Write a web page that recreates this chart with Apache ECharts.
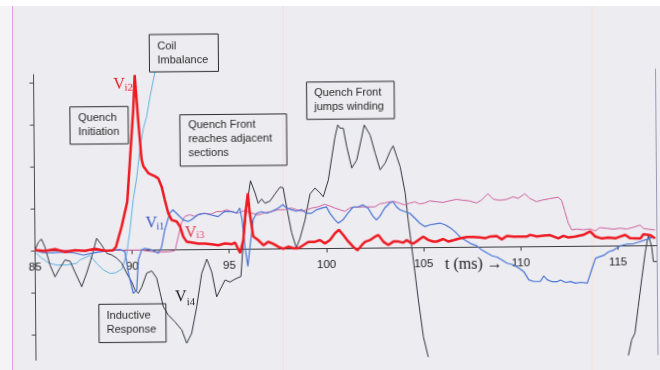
<!DOCTYPE html>
<html>
<head>
<meta charset="utf-8">
<script src="https://cdn.jsdelivr.net/npm/echarts@6/dist/echarts.min.js"></script>
<style>
  html, body { margin: 0; padding: 0; }
  body {
    width: 660px; height: 370px; overflow: hidden;
    background:
      linear-gradient(#ffffff, #ffffff) 0 0 / 660px 6px no-repeat,
      linear-gradient(#e59ce6, #e59ce6) 12px 0 / 1px 370px no-repeat,
      linear-gradient(#f4f4f7, #f4f4f7) 0 0 / 12px 370px no-repeat,
      linear-gradient(#f2e2ea, #f2e2ea) 282px 0 / 2px 370px no-repeat,
      linear-gradient(#f3e7e6, #f3e7e6) 591px 0 / 3px 370px no-repeat,
      #ececf1;
  }
  /* the scanned sheet sits slightly askew */
  #chart { width: 660px; height: 370px; transform: rotate(-0.5deg); transform-origin: 330px 185px; }
</style>
</head>
<body>
<div id="chart"></div>
<script>
// time axis (ms) and vertical tick positions (one division per tick)
const xTicks = [85, 90, 95, 100, 105, 110, 115];
const yTicks = [-2, -1, 0, 1, 2, 3, 4];

// Vi2 — quench initiation voltage [t (ms), divisions]
const vi2 = [
  [85.00,0.02],[85.51,0.00],[86.03,0.04],[86.54,-0.03],[87.06,0.01],[87.57,-0.01],[88.09,0.04],[88.60,-0.01],
  [89.02,0.00],[89.17,0.08],[89.47,0.56],[89.77,1.15],[89.93,2.15],[90.12,3.34],[90.21,4.17],[90.38,3.03],
  [90.53,2.15],[90.62,1.99],[90.87,1.83],[91.22,1.75],[91.38,1.70],[91.55,1.50],[91.71,1.18],[91.88,0.87],
  [92.05,0.71],[92.31,0.67],[92.48,0.55],[92.64,0.31],[92.81,0.19],[93.07,0.17],[93.41,0.14],[93.75,0.14],
  [94.10,0.12],[94.44,0.10],[94.78,0.14],[95.13,0.12],[95.30,0.16],[95.56,-0.09],[95.73,0.22],[95.85,0.86],
  [95.98,1.33],[96.07,0.86],[96.24,0.30],[96.50,0.21],[96.76,0.09],[97.01,0.17],[97.27,0.12],[97.53,0.05],
  [97.78,0.00],[98.04,0.05],[98.30,0.01],[98.56,0.01],[98.81,0.08],[99.07,0.16],[99.42,0.16],[99.67,0.20],
  [99.93,0.12],[100.19,0.20],[100.45,0.36],[100.65,0.44],[100.87,0.32],[101.13,0.16],[101.39,0.03],[101.60,-0.05],
  [101.82,0.07],[101.99,0.15],[102.25,0.19],[102.51,0.27],[102.68,0.31],[102.93,0.15],[103.19,0.07],[103.45,0.15],
  [103.71,0.15],[103.96,0.12],[104.14,0.18],[104.31,0.12],[104.48,0.10],[104.74,0.18],[104.99,0.26],[105.25,0.18],
  [105.51,0.14],[105.68,0.14],[106.02,0.20],[106.28,0.14],[106.54,0.17],[106.88,0.21],[107.23,0.24],[107.57,0.24],
  [107.91,0.23],[108.17,0.21],[108.43,0.25],[108.77,0.26],[109.03,0.18],[109.29,0.26],[109.63,0.24],[109.97,0.24],
  [110.32,0.24],[110.49,0.28],[110.83,0.24],[111.17,0.26],[111.52,0.27],[111.94,0.19],[112.20,0.25],[112.46,0.21],
  [112.80,0.23],[113.23,0.27],[113.58,0.35],[113.83,0.23],[114.18,0.18],[114.52,0.20],[114.87,0.18],[115.12,0.22],
  [115.38,0.26],[115.64,0.18],[116.16,0.17],[116.32,0.27],[116.67,0.25],[116.92,0.17]
];

// Vi1
const vi1 = [
  [85.00,0.01],[85.43,-0.04],[85.94,-0.05],[86.46,-0.03],[86.97,-0.05],[87.49,-0.11],[88.00,-0.06],[88.43,-0.03],
  [88.86,0.00],[89.38,0.02],[89.63,-0.04],[89.80,-0.55],[90.04,-1.03],[90.22,-0.95],[90.32,-0.23],[90.49,0.00],
  [90.66,0.04],[91.01,0.00],[91.35,-0.08],[91.52,0.07],[91.69,0.47],[91.95,0.87],[92.12,0.95],[92.38,0.83],
  [92.64,0.71],[92.89,0.67],[93.07,0.71],[93.41,0.83],[93.75,0.86],[94.10,0.82],[94.44,0.78],[94.78,0.90],
  [95.13,0.90],[95.39,0.86],[95.56,0.98],[95.67,0.70],[95.81,0.06],[95.95,-0.41],[96.07,0.06],[96.24,0.70],
  [96.42,0.85],[96.67,0.89],[96.93,0.85],[97.19,0.89],[97.53,0.97],[97.78,1.05],[97.96,0.97],[98.22,0.93],
  [98.47,0.89],[98.73,0.93],[98.99,0.84],[99.25,0.84],[99.50,0.92],[99.76,0.96],[100.02,0.99],[100.19,0.84],
  [100.45,0.68],[100.62,0.60],[100.87,0.68],[101.13,0.84],[101.39,0.98],[101.65,0.98],[101.90,1.03],[102.16,0.95],
  [102.42,0.75],[102.59,0.67],[102.76,0.75],[103.02,0.95],[103.28,1.07],[103.45,1.10],[103.62,0.98],[103.79,0.91],
  [104.05,0.86],[104.31,0.82],[104.57,0.70],[104.82,0.58],[105.08,0.50],[105.34,0.54],[105.60,0.56],[105.85,0.58],
  [106.11,0.54],[106.37,0.47],[106.63,0.37],[106.88,0.25],[107.14,0.17],[107.40,0.09],[107.74,0.03],[108.00,-0.07],
  [108.26,-0.14],[108.52,-0.21],[108.77,-0.24],[109.03,-0.31],[109.29,-0.39],[109.63,-0.43],[109.89,-0.51],[110.14,-0.59],
  [110.40,-0.79],[110.66,-0.83],[111.00,-0.83],[111.17,-0.70],[111.35,-0.79],[111.61,-0.84],[111.86,-0.84],[112.03,-0.80],
  [112.29,-0.86],[112.55,-0.84],[112.81,-0.88],[113.06,-0.86],[113.41,-0.88],[113.67,-0.52],[113.84,-0.29],[114.01,-0.26],
  [114.27,-0.22],[114.52,-0.14],[114.78,-0.10],[115.12,0.00],[115.47,0.04],[115.81,0.05],[116.16,0.10],[116.50,0.15],
  [116.84,0.21]
];

// Vi3
const vi3 = [
  [85.00,0.02],[86.29,0.01],[87.83,0.00],[89.63,0.00],[90.49,0.00],[91.01,-0.04],[91.35,-0.05],[91.86,-0.05],
  [92.21,-0.02],[92.38,0.31],[92.55,0.63],[92.72,0.79],[92.98,0.83],[93.24,0.79],[93.50,0.85],[93.75,0.86],
  [94.10,0.84],[94.36,0.90],[94.61,0.90],[94.87,0.94],[95.13,0.90],[95.47,0.86],[95.81,0.92],[96.16,0.86],
  [96.50,0.81],[96.84,0.86],[97.19,0.89],[97.53,0.93],[97.87,0.93],[98.22,0.97],[98.47,0.93],[98.73,0.89],
  [98.99,0.92],[99.25,0.96],[99.59,0.99],[99.93,1.05],[100.19,1.01],[100.45,0.96],[100.70,0.92],[100.96,0.88],
  [101.22,0.96],[101.48,0.98],[101.99,0.98],[102.51,0.98],[102.76,1.05],[103.02,1.07],[103.28,1.10],[103.54,1.10],
  [103.79,1.06],[104.05,1.02],[104.31,1.06],[104.57,1.09],[104.82,1.04],[105.08,1.06],[105.34,1.11],[105.68,1.09],
  [106.02,1.07],[106.37,1.11],[106.71,1.14],[107.05,1.12],[107.40,1.10],[107.74,1.05],[108.00,1.12],[108.34,1.27],
  [108.60,1.14],[108.94,1.11],[109.29,1.13],[109.63,1.19],[109.89,1.15],[110.23,1.26],[110.49,1.15],[110.83,1.07],
  [111.17,1.11],[111.52,1.14],[111.94,1.17],[112.12,1.10],[112.29,0.83],[112.46,0.55],[112.64,0.39],[112.89,0.41],
  [113.23,0.39],[113.58,0.41],[113.83,0.36],[114.09,0.44],[114.44,0.42],[114.78,0.40],[115.12,0.42],[115.47,0.40],
  [115.81,0.44],[116.16,0.49],[116.32,0.41],[116.58,0.39],[116.92,0.37]
];

// Vi4 — inductive response; leaves the frame below between ~105 and ~116 ms
const vi4 = [
  [85.00,0.02],[85.18,0.21],[85.34,0.28],[85.51,0.10],[85.77,-0.34],[86.02,-0.62],[86.28,-0.41],[86.54,-0.22],
  [86.80,-0.25],[87.05,-0.51],[87.39,-0.86],[87.65,-0.54],[87.92,-0.15],[88.18,0.29],[88.43,0.13],[88.69,-0.07],
  [88.95,-0.11],[89.21,-0.19],[89.46,-0.31],[89.71,-0.55],[89.96,-0.75],[90.13,-0.95],[90.30,-1.03],[90.48,-0.88],
  [90.74,-0.55],[91.00,-0.50],[91.25,-0.67],[91.41,-1.00],[91.58,-1.35],[91.83,-1.55],[92.18,-1.72],[92.52,-1.91],
  [92.77,-2.23],[93.03,-1.99],[93.30,-1.36],[93.57,-0.57],[93.84,-0.23],[94.09,-0.54],[94.33,-1.13],[94.59,-0.89],
  [94.77,-0.73],[95.02,-0.78],[95.21,-0.73],[95.38,-0.69],[95.59,-0.65],[95.73,0.22],[95.92,1.01],[96.12,1.63],
  [96.35,1.34],[96.51,1.09],[96.69,1.19],[96.86,1.09],[97.12,1.14],[97.38,1.31],[97.64,1.47],[97.80,1.45],
  [97.98,0.97],[98.22,0.38],[98.45,0.02],[98.65,0.25],[98.91,0.68],[99.18,1.30],[99.44,1.44],[99.70,1.32],
  [99.86,1.23],[100.13,1.63],[100.31,2.15],[100.49,2.65],[100.64,2.94],[100.75,2.86],[100.92,2.86],[101.09,2.42],
  [101.34,1.91],[101.60,2.10],[101.87,2.65],[102.00,2.93],[102.30,2.69],[102.55,2.26],[102.80,1.86],[103.06,2.02],
  [103.33,2.31],[103.48,2.43],[103.66,2.17],[103.83,1.93],[104.08,1.30],[104.22,0.66],[104.39,0.02],[104.55,-0.61],
  [104.71,-1.25],[104.95,-2.12],[105.19,-2.60],[105.38,-2.96],
  [110.50,null],
  [115.39,-2.91],[115.49,-2.62],[115.67,-2.24],[115.84,-2.08],[116.02,-1.45],[116.22,-0.77],[116.40,-0.18],
  [116.52,0.13],[116.59,0.23],[116.74,-0.03],[116.82,-0.38],[117.00,-0.38]
];

// coil imbalance signal
const coil = [
  [85.00,-0.02],[85.26,-0.14],[85.60,-0.26],[85.77,-0.30],[86.12,-0.34],[86.63,-0.34],[87.15,-0.30],[87.32,-0.22],
  [87.83,-0.12],[88.18,-0.31],[88.52,-0.47],[88.86,-0.55],[89.12,-0.54],[89.46,-0.45],[89.72,-0.09],[89.90,0.48],
  [90.08,1.21],[90.27,1.72],[90.46,2.46],[90.64,2.91],[90.81,3.18],[90.99,3.65],[91.17,4.05],[91.26,4.24]
];

const chart = echarts.init(document.getElementById('chart'), null, { renderer: 'canvas' });

const boxStyle = { fill: 'none', stroke: '#2e2e2e', lineWidth: 1 };
const noteFont = { fontFamily: 'Liberation Sans, Arial, sans-serif', fontSize: 11, fill: '#2a2a2a' };
function note(x, y, text, lh) {
  return { type: 'text', z: 10, style: Object.assign({ x, y, text, lineHeight: lh, align: 'left', verticalAlign: 'top' }, noteFont) };
}
function box(x, y, w, h) {
  return { type: 'rect', z: 10, shape: { x, y, width: w, height: h }, style: boxStyle };
}
function sym(x, y, text, size, color) {
  return { type: 'text', z: 10, style: { x, y, text, fontFamily: 'Liberation Serif, Times New Roman, serif', fontSize: size, fill: color, align: 'center', verticalAlign: 'middle' } };
}

const line = (name, data, color, width, extra) => Object.assign({
  name, type: 'line', data, showSymbol: false, symbol: 'none', connectNulls: false,
  xAxisIndex: 0, yAxisIndex: 0,
  lineStyle: { color, width }, itemStyle: { color }
}, extra || {});

// plot area: value 0 sits 176.4 px below the top (4.2 divisions of 42 px)
const plotLeft = 34.4, plotTop = 72, plotWidth = 621.8, plotHeight = 285.6;
const zeroOffset = 176.4;

chart.setOption({
  animation: false,
  backgroundColor: 'transparent',
  grid: [
    { left: plotLeft, top: plotTop, width: plotWidth, height: plotHeight, containLabel: false, outerBoundsMode: 'none' },
    // upper half only: its bottom edge carries the time axis through zero
    { left: plotLeft, top: plotTop, width: plotWidth, height: zeroOffset, containLabel: false, outerBoundsMode: 'none' }
  ],
  xAxis: [
    { gridIndex: 0, type: 'value', min: 85, max: 117, show: false },
    {
      gridIndex: 1, type: 'value', min: 85, max: 117, position: 'bottom',
      axisLine: { show: true, onZero: false, lineStyle: { color: '#3c3c3c', width: 1 } },
      axisTick: { show: true, customValues: xTicks, length: 4, lineStyle: { color: '#3c3c3c' } },
      axisLabel: { customValues: xTicks, margin: 10, color: '#1e1e1e', fontSize: 11.5, fontFamily: 'Liberation Sans, Arial, sans-serif' },
      splitLine: { show: false }
    }
  ],
  yAxis: [
    {
      gridIndex: 0, type: 'value', min: -2.6, max: 4.2,
      axisLine: { show: true, onZero: false, lineStyle: { color: '#4a4a4a', width: 1 } },
      axisTick: { show: true, customValues: yTicks, length: 4, lineStyle: { color: '#4a4a4a' } },
      axisLabel: { show: false },
      splitLine: { show: false }
    },
    {
      gridIndex: 0, type: 'value', min: -2.6, max: 4.2, position: 'right',
      axisLine: { show: true, onZero: false, lineStyle: { color: '#9a9ab4', width: 1 } },
      axisTick: { show: false }, axisLabel: { show: false }, splitLine: { show: false }
    },
    { gridIndex: 1, type: 'value', min: 0, max: 1, show: false }
  ],
  series: [
    line('Coil imbalance', coil, '#62b2e2', 1, { clip: false }),
    line('Vi4', vi4, '#34343f', 1),
    line('Vi3', vi3, '#d0609e', 1),
    line('Vi1', vi1, '#4a74d4', 1.2),
    line('Vi2', vi2, '#ee1a22', 2.5)
  ],
  graphic: [
    box(150.5, 33.0, 69, 37.4),   note(158.5, 37.7, 'Coil\nImbalance', 14),
    box(70.5, 104.7, 58.3, 37.3), note(78.8, 109.6, 'Quench\nInitiation', 13.4),
    box(180.4, 113.5, 106.7, 51.4), note(188.7, 117.1, 'Quench Front\nreaches adjacent\nsections', 14.1),
    box(307.4, 81.9, 87.6, 37.3), note(315.0, 85.9, 'Quench Front\njumps winding', 14),
    box(97.8, 302.3, 67, 38.3),   note(105.5, 307.2, 'Inductive\nResponse', 13.6),

    sym(120.1, 83.1, 'V', 16, '#e81c24'), sym(129.7, 86.7, 'i2', 10.5, '#e81c24'),
    sym(151.0, 221.4, 'V', 16, '#3858c4'), sym(160.0, 225.0, 'i1', 10.5, '#3858c4'),
    sym(190.4, 231.3, 'V', 16, '#e43040'), sym(199.9, 234.7, 'i3', 10.5, '#ec4a6a'),
    sym(179.8, 296.2, 'V', 16, '#222222'), sym(189.8, 300.8, 'i4', 10.5, '#222222'),

    { type: 'text', z: 10, style: { x: 444.3, y: 266.2, text: 't (ms) \u2192', fontFamily: 'Liberation Serif, Times New Roman, serif', fontSize: 16, fill: '#222', align: 'left', verticalAlign: 'middle' } }
  ]
});
</script>
</body>
</html>
